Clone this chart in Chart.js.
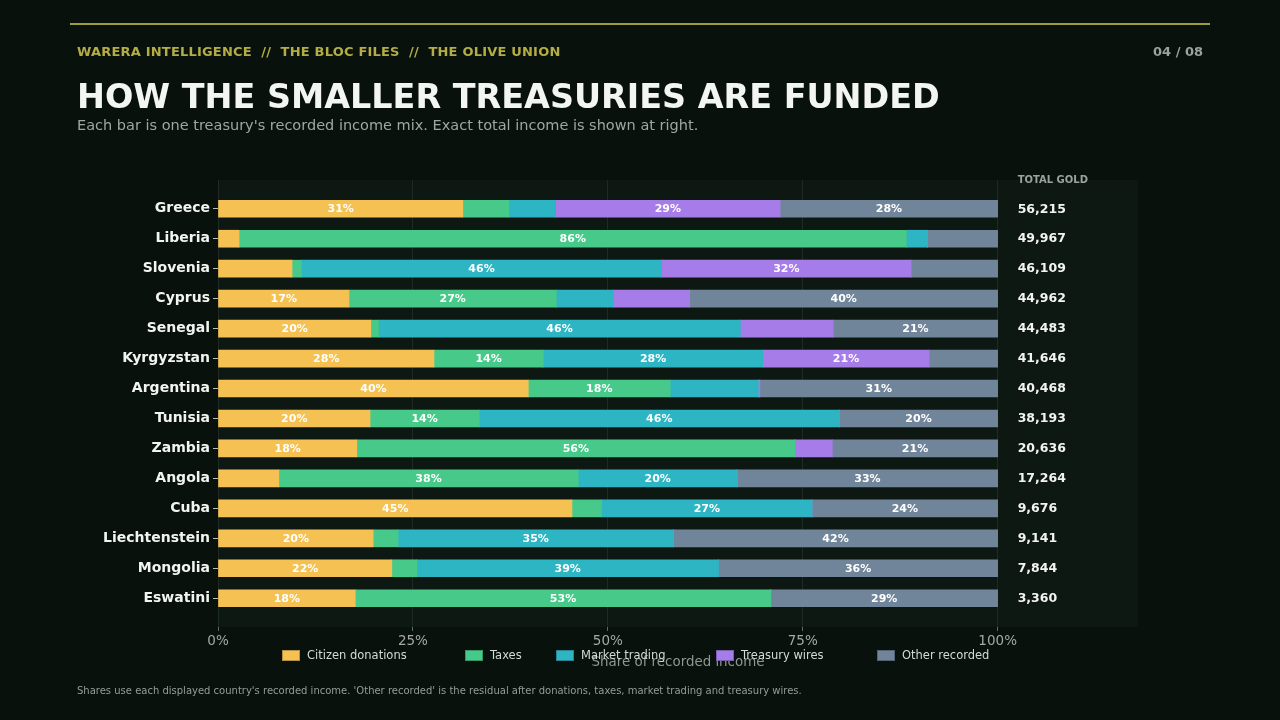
<!DOCTYPE html>
<html>
<head>
<meta charset="utf-8">
<script src="https://cdn.jsdelivr.net/npm/chart.js@4.4.1/dist/chart.umd.min.js"></script>
<style>
  html, body { margin:0; padding:0; background:#08110c; width:1280px; height:720px; overflow:hidden; font-family:'DejaVu Sans', sans-serif; }
  #wrap { position:relative; width:1280px; height:720px; }
  canvas { position:absolute; left:0; top:0; }
  .abs { position:absolute; white-space:nowrap; }
  #rule { left:70px; top:23px; width:1140px; height:2px; background:#9f9a3b; }
  #kicker { left:77px; top:44px; font-size:13px; line-height:16px; font-weight:bold; color:#b4ad45; letter-spacing:0.2px; }
  #page { right:77px; top:44px; font-size:13px; line-height:16px; font-weight:bold; color:#9aa49e; }
  #title { left:77px; top:77px; font-size:33.4px; line-height:40px; font-weight:bold; color:#f3f5f2; }
  #sub { left:77px; top:116px; font-size:14.5px; line-height:18px; color:#9ea7a1; }
  #foot { left:77px; top:684px; font-size:10px; line-height:14px; color:#959d98; }
  .lg { position:absolute; top:647px; height:16px; font-size:11.5px; line-height:16px; color:#d6dad6; white-space:nowrap; }
  .lg i { position:absolute; left:0; top:3px; width:16px; height:9px; border:1px solid rgba(0,0,0,0.25); }
  .lg span { position:absolute; left:25px; top:0; }
</style>
</head>
<body>
<div id="wrap">
  <canvas id="c" width="1280" height="720"></canvas>
  <div id="rule" class="abs"></div>
  <div id="kicker" class="abs">WARERA INTELLIGENCE &nbsp;//&nbsp; THE BLOC FILES &nbsp;//&nbsp; THE OLIVE UNION</div>
  <div id="page" class="abs">04 / 08</div>
  <div id="title" class="abs">HOW THE SMALLER TREASURIES ARE FUNDED</div>
  <div id="sub" class="abs">Each bar is one treasury's recorded income mix. Exact total income is shown at right.</div>
  <div id="legend"></div>
  <div id="foot" class="abs">Shares use each displayed country's recorded income. 'Other recorded' is the residual after donations, taxes, market trading and treasury wires.</div>
</div>
<script>
// ---- data ----
const categories = ['Greece','Liberia','Slovenia','Cyprus','Senegal','Kyrgyzstan','Argentina','Tunisia','Zambia','Angola','Cuba','Liechtenstein','Mongolia','Eswatini'];
const seriesNames = ['Citizen donations','Taxes','Market trading','Treasury wires','Other recorded'];
const donations = [31.4, 2.7, 9.5, 16.8, 19.6, 27.7, 39.8, 19.5, 17.8, 7.8, 45.4, 19.9, 22.3, 17.6];
const taxes     = [5.9, 85.6, 1.2, 26.6, 1.0, 14.0, 18.2, 14.0, 56.2, 38.4, 3.8, 3.2, 3.2, 53.3];
const market    = [6.0, 2.7, 46.2, 7.3, 46.4, 28.2, 11.3, 46.2, 0, 20.4, 27.0, 35.3, 38.7, 0];
const wires     = [28.8, 0, 32.0, 9.8, 11.9, 21.3, 0.2, 0, 4.8, 0, 0, 0, 0, 0];
const other     = [27.9, 9.0, 11.1, 39.5, 21.1, 8.8, 30.5, 20.3, 21.2, 33.4, 23.8, 41.6, 35.8, 29.1];
const totals    = [56215, 49967, 46109, 44962, 44483, 41646, 40468, 38193, 20636, 17264, 9676, 9141, 7844, 3360];
const xTicks    = [0, 25, 50, 75, 100];

// ---- style ----
const colors = ['#f4c152', '#47c98a', '#2eb5c3', '#a67ce8', '#71859a'];
const legendLeft = [282, 465, 556, 716, 877];

const seriesValues = [donations, taxes, market, wires, other];

// HTML legend built from series names/colors
const lg = document.getElementById('legend');
seriesNames.forEach((n, i) => {
  const d = document.createElement('div');
  d.className = 'lg';
  d.style.left = legendLeft[i] + 'px';
  d.innerHTML = '<i style="background:' + colors[i] + '"></i><span>' + n + '</span>';
  lg.appendChild(d);
});

Chart.defaults.font.family = "'DejaVu Sans', sans-serif";

const backdrop = {
  id: 'backdrop',
  beforeDraw(chart) {
    const {ctx, chartArea: a} = chart;
    ctx.save();
    ctx.fillStyle = '#0d1813';
    ctx.fillRect(a.left, a.top, a.right - a.left, a.bottom - a.top);
    ctx.restore();
  }
};

const labelsPlugin = {
  id: 'segLabels',
  afterDatasetsDraw(chart) {
    const {ctx} = chart;
    ctx.save();
    ctx.font = 'bold 11px "DejaVu Sans"';
    ctx.fillStyle = '#ffffff';
    ctx.textAlign = 'center';
    ctx.textBaseline = 'middle';
    chart.data.datasets.forEach((ds, di) => {
      const meta = chart.getDatasetMeta(di);
      meta.data.forEach((el, i) => {
        const v = seriesValues[di][i];
        if (v >= 12.5) {
          ctx.fillText(Math.round(v) + '%', (el.x + el.base) / 2, el.y + 0.5);
        }
      });
    });
    // totals column
    const xs = chart.scales.x, ys = chart.scales.y;
    const tx = xs.getPixelForValue(100) + 20;
    ctx.textAlign = 'left';
    ctx.font = 'bold 12.5px "DejaVu Sans"';
    ctx.fillStyle = '#f2f4f1';
    totals.forEach((t, i) => {
      ctx.fillText(t.toLocaleString('en-US'), tx, ys.getPixelForValue(i) + 0.5);
    });
    ctx.font = 'bold 10px "DejaVu Sans"';
    ctx.fillStyle = '#9aa39e';
    ctx.fillText('TOTAL GOLD', tx, chart.chartArea.top);
    ctx.restore();
  }
};

new Chart(document.getElementById('c'), {
  type: 'bar',
  data: {
    datasets: seriesNames.map((n, di) => ({
      label: n,
      data: seriesValues[di].map((v, i) => ({x: v, y: i})),
      backgroundColor: colors[di],
      borderWidth: 0,
      barThickness: 17,
      stack: 'mix'
    }))
  },
  options: {
    indexAxis: 'y',
    responsive: false,
    animation: false,
    layout: { padding: { top: 180, left: 0, right: 0, bottom: 0 } },
    plugins: { legend: { display: false }, tooltip: { enabled: false } },
    scales: {
      x: {
        type: 'linear',
        stacked: true,
        min: 0,
        max: 118,
        afterBuildTicks(s) { s.ticks = xTicks.map(v => ({value: v})); },
        afterFit(s) { s.height = 93; },
        grid: { color: '#1e2a24', tickLength: 4, tickColor: '#5f6963' },
        border: { display: false },
        ticks: { color: '#a3aaa5', font: { size: 13.5 }, padding: 2, callback: v => v + '%' },
        title: { display: true, text: 'Share of recorded income', color: '#8f9792', font: { size: 13.4 }, padding: { top: 4, bottom: 49 } }
      },
      y: {
        type: 'linear',
        reverse: true,
        offset: false,
        min: -0.96,
        max: 13.96,
        afterBuildTicks(s) { s.ticks = categories.map((c, i) => ({value: i})); },
        afterFit(s) { s.width = 218; },
        grid: { offset: false, drawOnChartArea: false, tickLength: 5, tickColor: '#b9beba' },
        border: { display: false },
        ticks: { color: '#f2f4f1', font: { size: 14, weight: 'bold' }, padding: 3, autoSkip: false, callback: v => categories[v] }
      },
      yr: {
        type: 'linear',
        position: 'right',
        min: 0, max: 1,
        grid: { display: false },
        border: { display: false },
        ticks: { display: false },
        afterFit(s) { s.width = 142; }
      }
    }
  },
  plugins: [backdrop, labelsPlugin]
});
</script>
</body>
</html>
